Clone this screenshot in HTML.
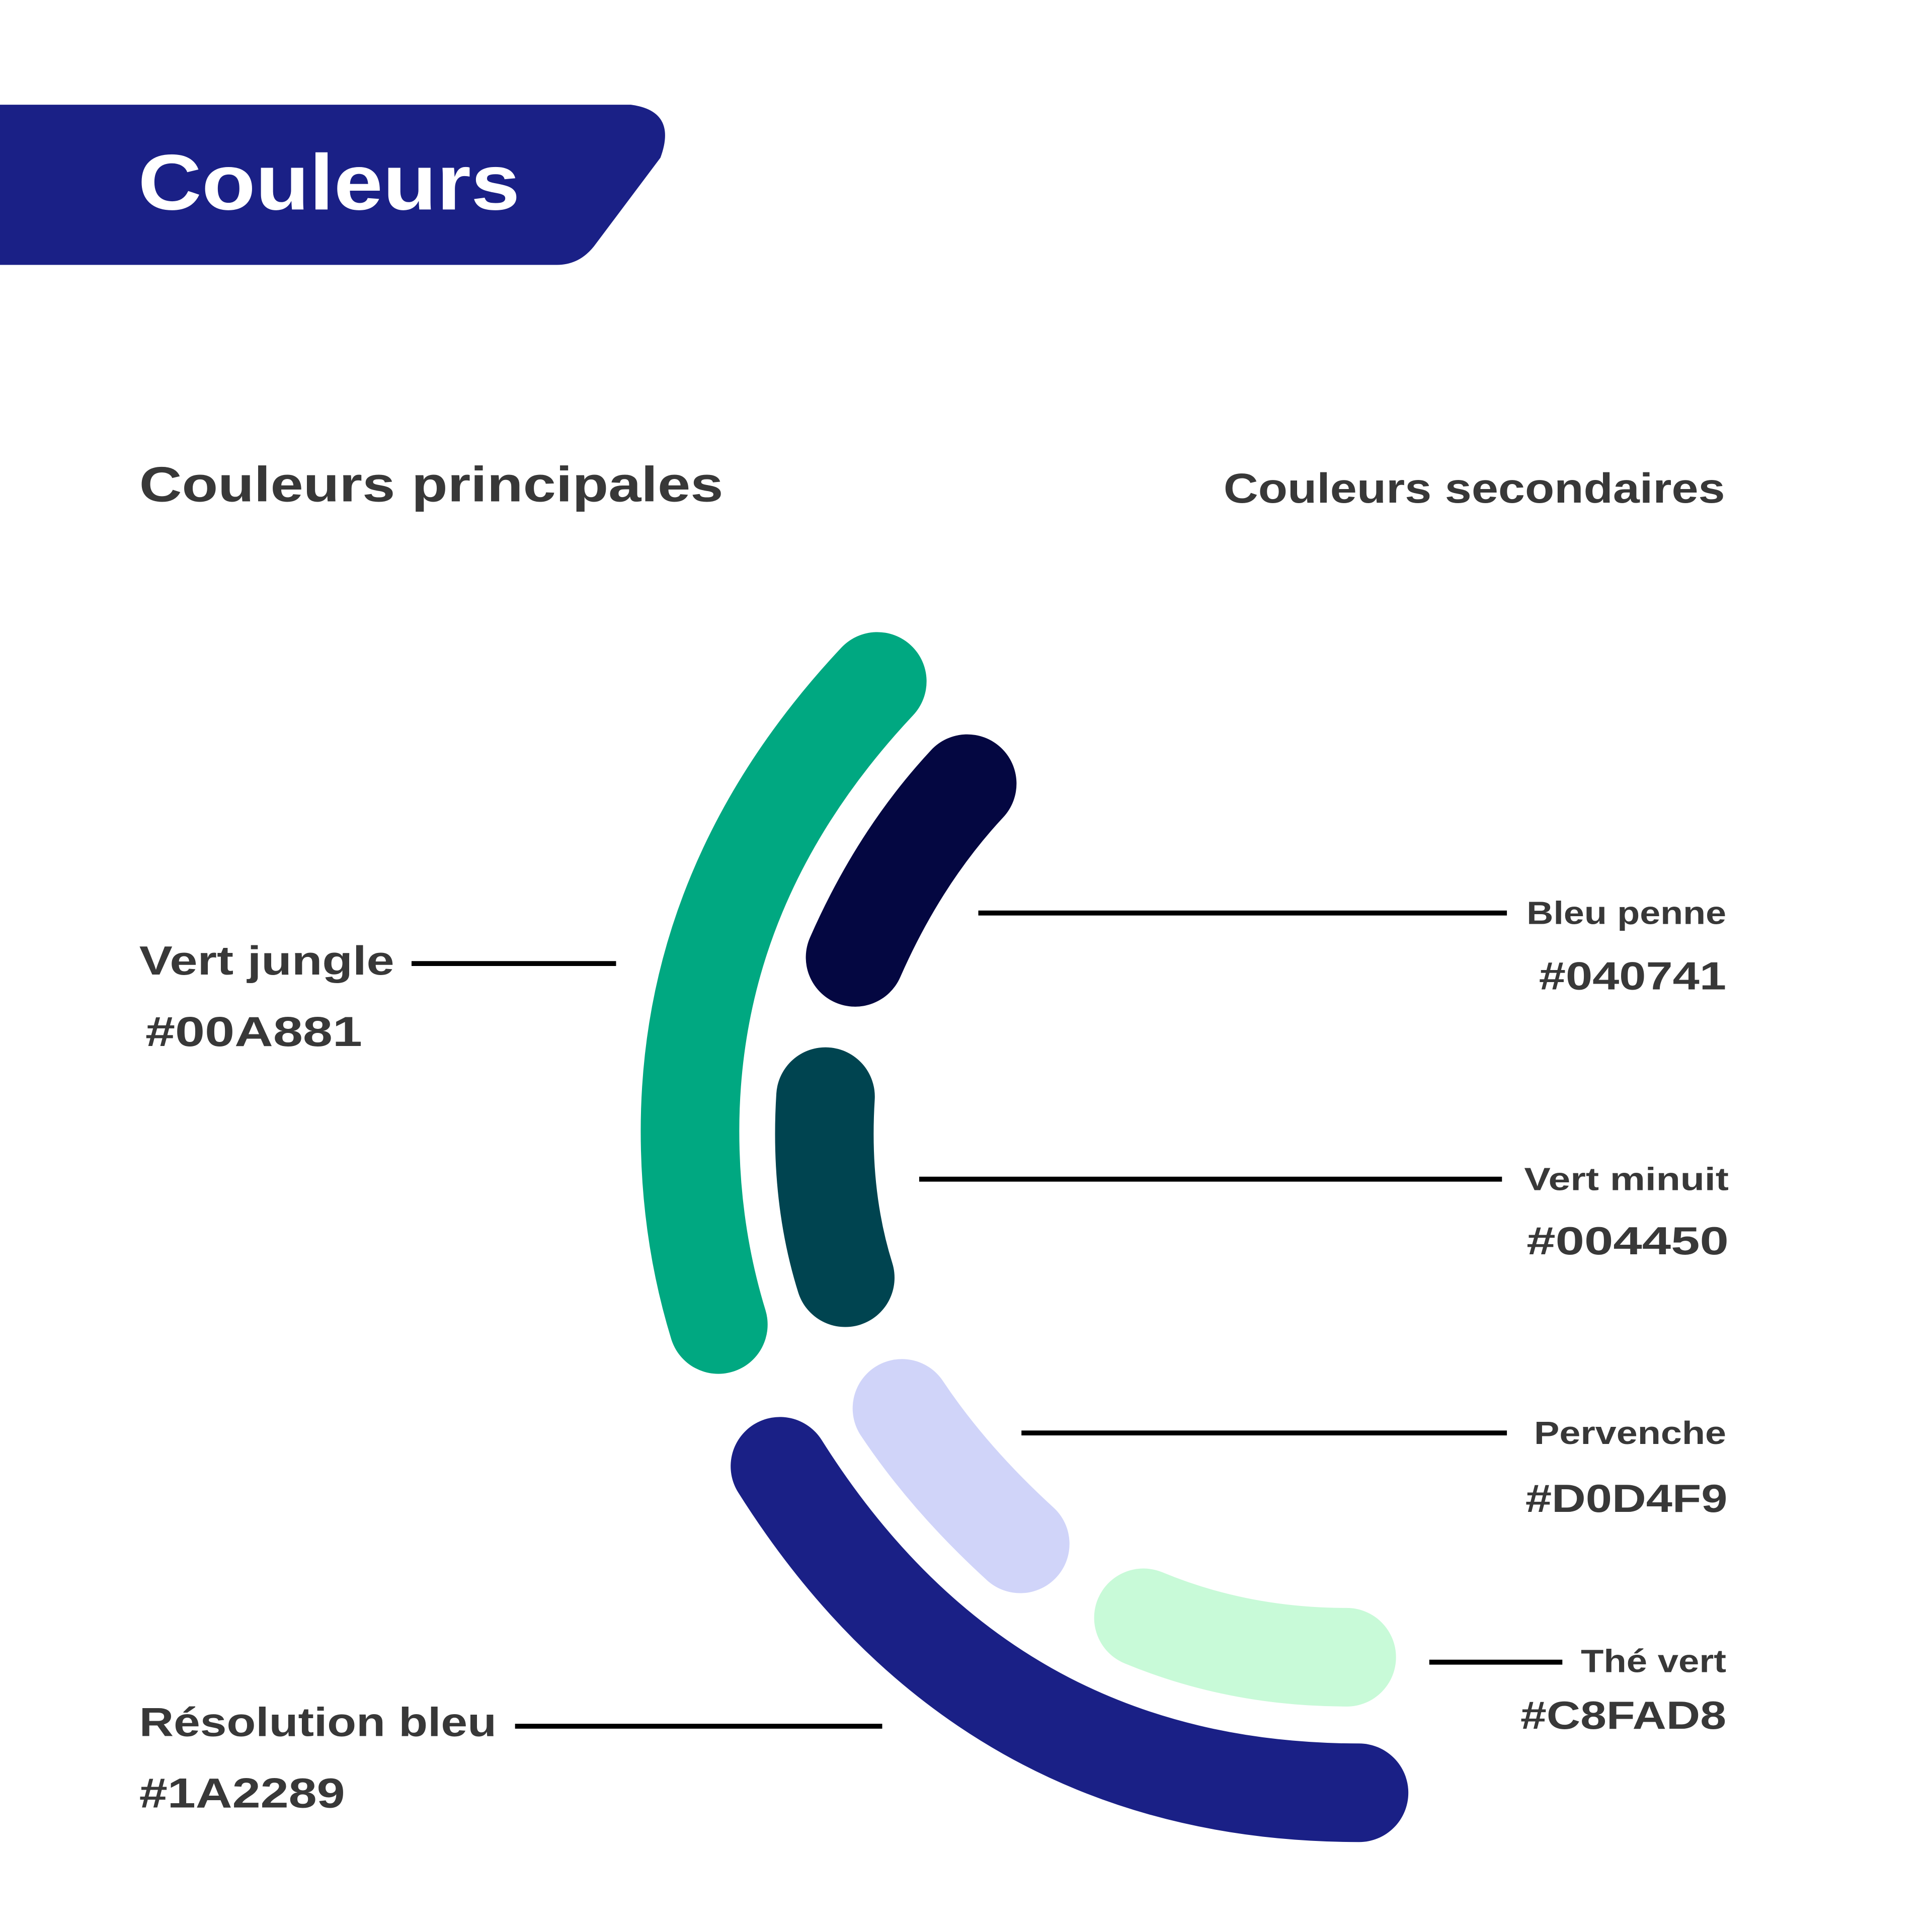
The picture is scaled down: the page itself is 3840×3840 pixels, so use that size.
<!DOCTYPE html>
<html><head><meta charset="utf-8"><style>
html,body{margin:0;padding:0;background:#fff;}
svg{display:block;}
text{font-family:"Liberation Sans",sans-serif;font-weight:bold;}
</style></head><body>
<svg width="3840" height="3840" viewBox="0 0 1568 1568" xmlns="http://www.w3.org/2000/svg">
<rect width="1568" height="1568" fill="#fff"/>
<path d="M0,85 H512 Q550,90 536,128 L482,200 Q470,215 452,215 H0 Z" fill="#1a2086"/>
<text x="112" y="170" font-size="64" fill="#fff" textLength="310" lengthAdjust="spacingAndGlyphs">Couleurs</text>
<text x="113" y="407" font-size="40" fill="#383838" textLength="474" lengthAdjust="spacingAndGlyphs">Couleurs principales</text>
<text x="993" y="408" font-size="34" fill="#383838" textLength="407" lengthAdjust="spacingAndGlyphs">Couleurs secondaires</text>
<g fill="none" stroke-linecap="round" stroke-width="80">
<path d="M712,553 Q560,715 560,918 Q560,1000 583,1075" stroke="#00a881"/>
<path d="M785,636 Q730,695 694,777" stroke="#040741"/>
<path d="M670,890 Q665,970 686,1037" stroke="#004450"/>
<path d="M732,1143 Q770,1200 828,1253" stroke="#d0d4f9"/>
<path d="M928,1313 Q1005,1345 1093,1345" stroke="#c8fad8"/>
<path d="M633,1190 Q800,1455 1103,1455" stroke="#1a2086"/>
</g>
<g stroke="#000" stroke-width="4">
<line x1="334" y1="782" x2="500" y2="782"/>
<line x1="794" y1="741" x2="1223" y2="741"/>
<line x1="746" y1="957" x2="1219" y2="957"/>
<line x1="829" y1="1163" x2="1223" y2="1163"/>
<line x1="1160" y1="1349" x2="1268" y2="1349"/>
<line x1="418" y1="1401" x2="716" y2="1401"/>
</g>
<g fill="#383838">
<text x="113" y="791" font-size="33" textLength="207" lengthAdjust="spacingAndGlyphs">Vert jungle</text>
<text x="118" y="849" font-size="34" textLength="176" lengthAdjust="spacingAndGlyphs">#00A881</text>
<text x="1239" y="750" font-size="26" textLength="162" lengthAdjust="spacingAndGlyphs">Bleu penne</text>
<text x="1249" y="803" font-size="32" textLength="152" lengthAdjust="spacingAndGlyphs">#040741</text>
<text x="1237" y="966" font-size="26" textLength="166" lengthAdjust="spacingAndGlyphs">Vert minuit</text>
<text x="1239" y="1018" font-size="32" textLength="164" lengthAdjust="spacingAndGlyphs">#004450</text>
<text x="1245" y="1172" font-size="26" textLength="156" lengthAdjust="spacingAndGlyphs">Pervenche</text>
<text x="1238" y="1227" font-size="32" textLength="164" lengthAdjust="spacingAndGlyphs">#D0D4F9</text>
<text x="1283" y="1357" font-size="26" textLength="118" lengthAdjust="spacingAndGlyphs">Thé vert</text>
<text x="1234" y="1403" font-size="32" textLength="167" lengthAdjust="spacingAndGlyphs">#C8FAD8</text>
<text x="113" y="1409" font-size="33" textLength="290" lengthAdjust="spacingAndGlyphs">Résolution bleu</text>
<text x="113" y="1467" font-size="34" textLength="167" lengthAdjust="spacingAndGlyphs">#1A2289</text>
</g>
</svg>
</body></html>
